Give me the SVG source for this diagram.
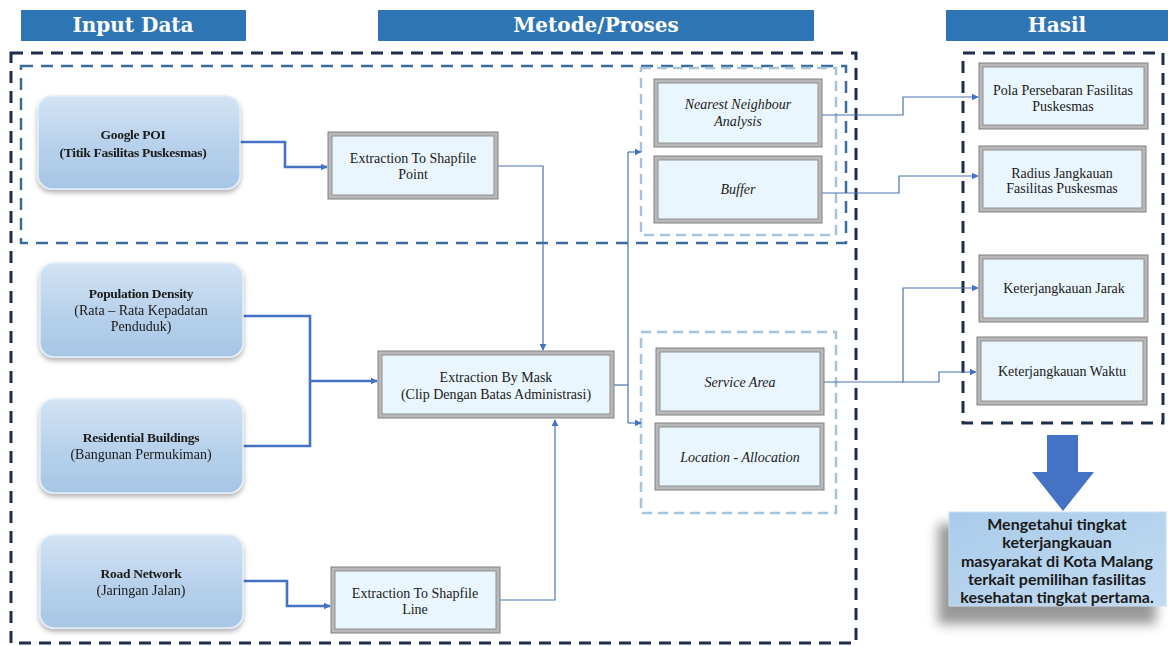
<svg xmlns="http://www.w3.org/2000/svg" width="1168" height="646" viewBox="0 0 1168 646">
<defs>
<linearGradient id="gIn" x1="0" y1="0" x2="0" y2="1">
<stop offset="0" stop-color="#d3e4f4"/>
<stop offset="0.5" stop-color="#b9d2ec"/>
<stop offset="1" stop-color="#a6c6e5"/>
</linearGradient>
<linearGradient id="gRes" x1="0" y1="0" x2="1" y2="1">
<stop offset="0" stop-color="#a9cbea"/>
<stop offset="1" stop-color="#c3dbf1"/>
</linearGradient>
<filter id="sh" x="-10%" y="-10%" width="125%" height="130%">
<feGaussianBlur in="SourceAlpha" stdDeviation="2.5"/>
<feOffset dx="0" dy="3" result="b"/>
<feFlood flood-color="#000" flood-opacity="0.3"/>
<feComposite in2="b" operator="in"/>
<feMerge><feMergeNode/><feMergeNode in="SourceGraphic"/></feMerge>
</filter>
<filter id="bigsh" x="-30%" y="-30%" width="160%" height="170%">
<feGaussianBlur stdDeviation="6"/>
</filter>
<marker id="ah" viewBox="0 0 10 10" refX="9" refY="5" markerWidth="7" markerHeight="7" markerUnits="userSpaceOnUse" orient="auto">
<path d="M0,0 L10,5 L0,10 z" fill="#4472c4"/>
</marker>
</defs>
<style>
.hdr{fill:#2e75b6}
.hdrt{font-family:"DejaVu Serif","Liberation Serif",serif;font-weight:bold;font-size:20px;fill:#fff;text-anchor:middle}
.outer{fill:none;stroke:#1f2d4c;stroke-width:3;stroke-dasharray:12 8}
.inner{fill:none;stroke:#3a6d9c;stroke-width:2.5;stroke-dasharray:12 8}
.light{fill:none;stroke:#a7c3dc;stroke-width:2.5;stroke-dasharray:10 6}
.inp{fill:url(#gIn);stroke:#e4eef8;stroke-width:1.5}
.bo{fill:#b8b8b8;stroke:#808080;stroke-width:1}
.bi{fill:#eaf6fd;stroke:#8f8f8f;stroke-width:1}
.t{font-family:"Liberation Serif","Times New Roman",serif;font-size:14px;fill:#1a1a1a;text-anchor:middle}
.tb{font-family:"Liberation Serif","Times New Roman",serif;font-size:13.5px;font-weight:bold;fill:#1a1a1a;text-anchor:middle;letter-spacing:-0.3px}
.ti{font-style:italic}
.thin{fill:none;stroke:#4a72b4;stroke-width:1.2}
.thick{fill:none;stroke:#4472c4;stroke-width:2.6}
.fin{font-family:Lato,"Noto Sans",sans-serif;font-weight:bold;font-size:16px;fill:#1a1a1a;text-anchor:middle}
</style>

<g id="headers">
<rect class="hdr" x="21" y="10" width="225" height="31"/>
<text class="hdrt" x="133" y="32">Input Data</text>
<rect class="hdr" x="378" y="10" width="436" height="31"/>
<text class="hdrt" x="596" y="32">Metode/Proses</text>
<rect class="hdr" x="946" y="10" width="222" height="31"/>
<text class="hdrt" x="1057" y="32">Hasil</text>
</g>

<g id="frames">
<rect class="outer" x="11" y="53" width="845" height="590"/>
<rect class="inner" x="21" y="66" width="825" height="177"/>
<rect class="light" x="641" y="68" width="195" height="167"/>
<rect class="light" x="641" y="332" width="195" height="181"/>
<rect class="outer" x="963" y="53" width="200" height="370"/>
</g>

<g id="connectors">
<path class="thick" d="M240,142 H285 V167 H327" marker-end="url(#ah)"/>
<path class="thin" d="M498,166 H543 V350" marker-end="url(#ah)"/>
<path class="thick" d="M243,316 H310 V446 H243"/>
<path class="thick" d="M310,381 H377" marker-end="url(#ah)"/>
<path class="thick" d="M243,581 H287 V606 H330" marker-end="url(#ah)"/>
<path class="thin" d="M500,600 H555 V420" marker-end="url(#ah)"/>
<path class="thin" d="M614,385 H628"/>
<path class="thin" d="M628,152 V423"/>
<path class="thin" d="M628,152 H641" marker-end="url(#ah)"/>
<path class="thin" d="M628,423 H641" marker-end="url(#ah)"/>
<path class="thin" d="M822,115 H903 V97 H978" marker-end="url(#ah)"/>
<path class="thin" d="M822,193 H899 V176 H978" marker-end="url(#ah)"/>
<path class="thin" d="M824,382 H903 V288 H978" marker-end="url(#ah)"/>
<path class="thin" d="M903,382 H939 V372 H976" marker-end="url(#ah)"/>
</g>

<g id="google-poi" filter="url(#sh)">
<rect class="inp" x="38" y="96" width="202" height="93" rx="14"/>
<text class="tb" x="133" y="139">Google POI</text>
<text class="tb" x="133" y="157">(Titik Fasilitas Puskesmas)</text>
</g>
<g id="population-density" filter="url(#sh)">
<rect class="inp" x="40" y="263" width="203" height="94" rx="14"/>
<text class="tb" x="141" y="298">Population Density</text>
<text class="t" x="141" y="315">(Rata – Rata Kepadatan</text>
<text class="t" x="141" y="331">Penduduk)</text>
</g>
<g id="residential-buildings" filter="url(#sh)">
<rect class="inp" x="40" y="399" width="203" height="94" rx="14"/>
<text class="tb" x="141" y="442">Residential Buildings</text>
<text class="t" x="141" y="459">(Bangunan Permukiman)</text>
</g>
<g id="road-network" filter="url(#sh)">
<rect class="inp" x="40" y="535" width="203" height="93" rx="14"/>
<text class="tb" x="141" y="578">Road Network</text>
<text class="t" x="141" y="595">(Jaringan Jalan)</text>
</g>

<g id="extraction-point">
<rect class="bo" x="328" y="132" width="170" height="67"/>
<rect class="bi" x="332" y="136" width="162" height="59"/>
<text class="t" x="413" y="163">Extraction To Shapfile</text>
<text class="t" x="413" y="179">Point</text>
</g>
<g id="extraction-mask">
<rect class="bo" x="378" y="351" width="236" height="67"/>
<rect class="bi" x="382" y="355" width="228" height="59"/>
<text class="t" x="496" y="382">Extraction By Mask</text>
<text class="t" x="496" y="399">(Clip Dengan Batas Administrasi)</text>
</g>
<g id="extraction-line">
<rect class="bo" x="331" y="567" width="169" height="66"/>
<rect class="bi" x="335" y="571" width="161" height="58"/>
<text class="t" x="415" y="598">Extraction To Shapfile</text>
<text class="t" x="415" y="614">Line</text>
</g>

<g id="nearest-neighbour">
<rect class="bo" x="654" y="79" width="168" height="68"/>
<rect class="bi" x="658" y="83" width="160" height="60"/>
<text class="t ti" x="738" y="109" font-size="13">Nearest Neighbour</text>
<text class="t ti" x="738" y="126" font-size="13">Analysis</text>
</g>
<g id="buffer">
<rect class="bo" x="654" y="156" width="168" height="67"/>
<rect class="bi" x="658" y="160" width="160" height="59"/>
<text class="t ti" x="738" y="194" font-size="13">Buffer</text>
</g>
<g id="service-area">
<rect class="bo" x="656" y="348" width="168" height="67"/>
<rect class="bi" x="660" y="352" width="160" height="59"/>
<text class="t ti" x="740" y="387" font-size="13">Service Area</text>
</g>
<g id="location-allocation">
<rect class="bo" x="655" y="423" width="169" height="67"/>
<rect class="bi" x="659" y="427" width="161" height="59"/>
<text class="t ti" x="740" y="462" font-size="13">Location - Allocation</text>
</g>

<g id="pola-persebaran">
<rect class="bo" x="979" y="63" width="169" height="66"/>
<rect class="bi" x="983" y="67" width="161" height="58"/>
<text class="t" x="1063" y="95" font-size="13">Pola Persebaran Fasilitas</text>
<text class="t" x="1063" y="111" font-size="13">Puskesmas</text>
</g>
<g id="radius-jangkauan">
<rect class="bo" x="979" y="146" width="167" height="66"/>
<rect class="bi" x="983" y="150" width="159" height="58"/>
<text class="t" x="1062" y="178" font-size="13">Radius Jangkauan</text>
<text class="t" x="1062" y="193" font-size="13">Fasilitas Puskesmas</text>
</g>
<g id="keterjangkauan-jarak">
<rect class="bo" x="979" y="255" width="169" height="67"/>
<rect class="bi" x="983" y="259" width="161" height="59"/>
<text class="t" x="1064" y="293" font-size="13">Keterjangkauan Jarak</text>
</g>
<g id="keterjangkauan-waktu">
<rect class="bo" x="977" y="337" width="170" height="68"/>
<rect class="bi" x="981" y="341" width="162" height="60"/>
<text class="t" x="1062" y="376" font-size="13">Keterjangkauan Waktu</text>
</g>

<g id="down-arrow">
<path d="M1047,435 H1078 V472 H1094 L1063,511 L1032,472 H1047 Z" fill="#4472c4"/>
</g>

<g id="conclusion">
<rect x="938" y="524" width="218" height="100" fill="#555" opacity="0.6" filter="url(#bigsh)"/>
<rect x="949" y="512" width="217" height="94" fill="url(#gRes)" stroke="#c9def2" stroke-width="1"/>
<text class="fin" x="1057" y="530">Mengetahui tingkat</text>
<text class="fin" x="1057" y="548">keterjangkauan</text>
<text class="fin" x="1057" y="567">masyarakat di Kota Malang</text>
<text class="fin" x="1057" y="585">terkait  pemilihan fasilitas</text>
<text class="fin" x="1057" y="603">kesehatan tingkat pertama.</text>
</g>
</svg>
